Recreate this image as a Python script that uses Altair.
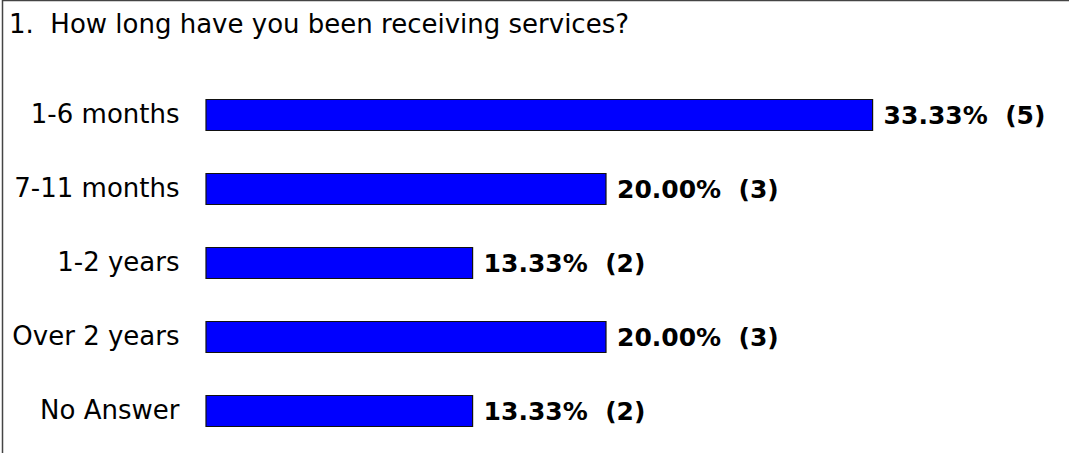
import altair as alt
import pandas as pd

categories = ["1-6 months", "7-11 months", "1-2 years", "Over 2 years", "No Answer"]
percents = [33.33, 20.00, 13.33, 20.00, 13.33]
counts = [5, 3, 2, 3, 2]
title_text = "1.\u00a0\u00a0How long have you been receiving services?"

df = pd.DataFrame({
    "cat": categories,
    "pct": percents,
    "n": counts,
})
df["label"] = [f"{p:.2f}%\u00a0\u00a0({c})" for p, c in zip(percents, counts)]

FONT = "DejaVu Sans"
W, H = 863, 370

x_enc = alt.X("pct:Q", scale=alt.Scale(domain=[0, 43.15], nice=False, zero=True), axis=None)
y_enc = alt.Y("cat:N", sort=categories,
              scale=alt.Scale(paddingInner=0, paddingOuter=0),
              axis=alt.Axis(title=None, domain=False, ticks=False, labelFont=FONT,
                            labelFontSize=26, labelColor="black", labelPadding=27,
                            labelLimit=400))

bars = alt.Chart(df).mark_bar(height=31, color="#0000FF", stroke="#111111",
                              strokeWidth=1.2).encode(x=x_enc, y=y_enc)

texts = alt.Chart(df).mark_text(align="left", baseline="middle", dx=11, dy=1,
                                font=FONT, fontSize=25, fontWeight="bold",
                                color="black").encode(
    x=alt.X("pct:Q"), y=alt.Y("cat:N", sort=categories), text="label:N")

one = pd.DataFrame({"a": [0]})
title_mark = alt.Chart(one).mark_text(align="left", baseline="alphabetic", font=FONT,
                                      fontSize=26, color="black").encode(
    x=alt.value(-197), y=alt.value(-45), text=alt.value(title_text))
frame = alt.Chart(one).mark_rect(fillOpacity=0, stroke="#444444", strokeWidth=1.5).encode(
    x=alt.value(-203.5), x2=alt.value(W + 60), y=alt.value(-77.5), y2=alt.value(H + 60))

chart = alt.layer(bars, texts, title_mark, frame).properties(
    width=W, height=H,
    autosize=alt.AutoSizeParams(type="none"),
    padding={"left": 206, "top": 78, "right": 0, "bottom": 5},
).configure(background="white").configure_view(stroke=None)

chart.save("out.html", embed_options={"renderer": "svg", "actions": False})
